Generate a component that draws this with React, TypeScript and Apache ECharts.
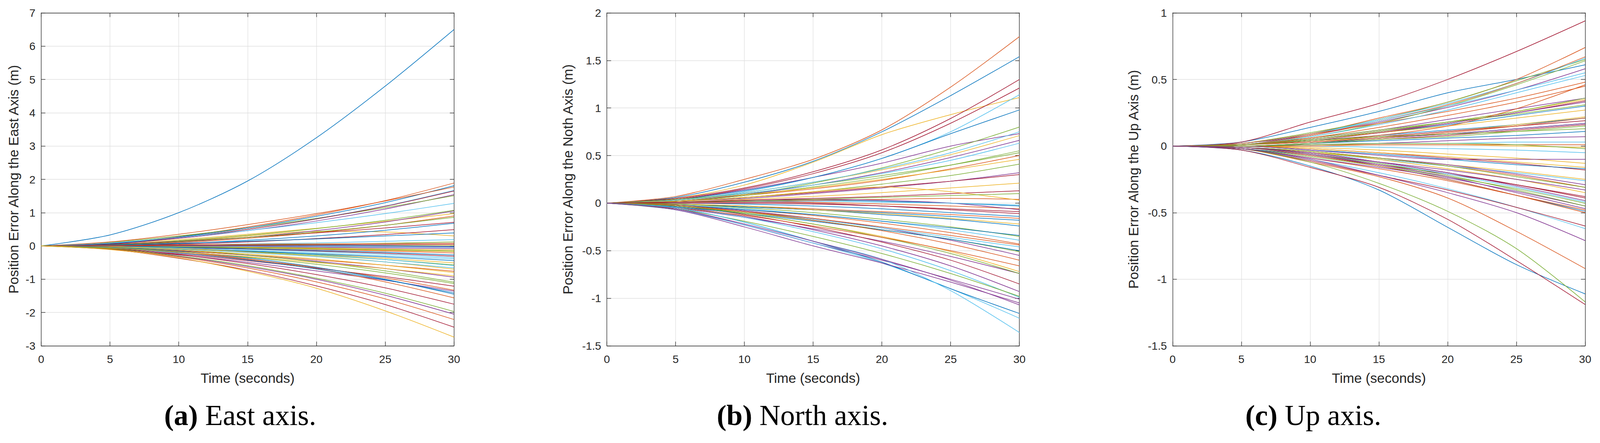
import React, { useEffect, useRef } from "react";
import * as echarts from "echarts";

// time samples (seconds)
const TIMES = [0, 5, 10, 15, 20, 25, 30];

// ---------- (a) East axis: position error (m) at TIMES ----------
const eastBlue = [
  [0, 0.33, 1.0, 1.95, 3.25, 4.8, 6.5],
  [0, 0.07, 0.27, 0.54, 0.89, 1.3, 1.81],
  [0, 0.02, 0.07, 0.17, 0.3, 0.47, 0.68],
  [0, 0.03, 0.08, 0.14, 0.21, 0.3, 0.39],
  [0, 0.0, 0.01, 0.02, 0.02, 0.01, -0.01],
  [0, -0.01, -0.04, -0.08, -0.13, -0.19, -0.27],
  [0, -0.03, -0.09, -0.16, -0.24, -0.33, -0.44],
  [0, -0.06, -0.21, -0.42, -0.69, -1.02, -1.41],
  [0, -0.04, -0.16, -0.36, -0.64, -1.0, -1.45],
];
const eastOrange = [
  [0, 0.08, 0.28, 0.57, 0.93, 1.36, 1.89],
  [0, 0.12, 0.35, 0.64, 0.97, 1.35, 1.77],
  [0, 0.03, 0.1, 0.23, 0.4, 0.62, 0.9],
  [0, -0.01, -0.03, -0.06, -0.1, -0.15, -0.21],
  [0, -0.05, -0.15, -0.27, -0.42, -0.58, -0.76],
  [0, -0.05, -0.2, -0.4, -0.65, -0.96, -1.33],
  [0, -0.05, -0.17, -0.39, -0.69, -1.08, -1.56],
  [0, -0.09, -0.33, -0.66, -1.08, -1.59, -2.21],
  [0, 0.01, 0.03, 0.05, 0.06, 0.07, 0.08],
];
const eastYellow = [
  [0, 0.07, 0.19, 0.35, 0.53, 0.74, 0.97],
  [0, 0.04, 0.14, 0.3, 0.44, 0.42, 0.3],
  [0, 0.0, 0.01, 0.01, 0.02, 0.02, 0.02],
  [0, -0.01, -0.02, -0.04, -0.06, -0.09, -0.12],
  [0, -0.01, -0.03, -0.06, -0.09, -0.13, -0.17],
  [0, -0.02, -0.08, -0.15, -0.25, -0.37, -0.51],
  [0, -0.02, -0.08, -0.18, -0.31, -0.48, -0.7],
  [0, -0.03, -0.12, -0.24, -0.39, -0.58, -0.8],
  [0, -0.06, -0.18, -0.32, -0.5, -0.68, -0.9],
  [0, -0.11, -0.36, -0.76, -1.27, -1.95, -2.74],
];
const eastPurple = [
  [0, 0.06, 0.23, 0.46, 0.75, 1.11, 1.54],
  [0, 0.03, 0.12, 0.26, 0.46, 0.72, 1.05],
  [0, 0.0, -0.01, -0.02, -0.04, -0.06, -0.08],
  [0, -0.04, -0.14, -0.28, -0.46, -0.68, -0.94],
  [0, -0.1, -0.27, -0.49, -0.75, -1.03, -1.36],
  [0, -0.08, -0.31, -0.62, -1.0, -1.48, -2.05],
  [0, 0.01, 0.01, 0.0, -0.01, -0.02, -0.03],
];
const eastGreen = [
  [0, 0.11, 0.3, 0.54, 0.83, 1.15, 1.51],
  [0, 0.04, 0.16, 0.32, 0.52, 0.77, 1.07],
  [0, 0.03, 0.13, 0.26, 0.42, 0.62, 0.86],
  [0, 0.0, 0.01, 0.03, 0.05, 0.08, 0.12],
  [0, -0.01, -0.03, -0.05, -0.08, -0.11, -0.15],
  [0, -0.02, -0.09, -0.17, -0.28, -0.41, -0.57],
  [0, -0.03, -0.12, -0.27, -0.48, -0.75, -1.09],
  [0, -0.05, -0.17, -0.34, -0.55, -0.81, -1.13],
  [0, -0.08, -0.3, -0.59, -0.97, -1.42, -1.97],
];
const eastLightBlue = [
  [0, 0.07, 0.25, 0.5, 0.82, 1.2, 1.67],
  [0, 0.09, 0.26, 0.46, 0.7, 0.97, 1.28],
  [0, 0.01, 0.03, 0.06, 0.09, 0.14, 0.19],
  [0, -0.01, -0.05, -0.11, -0.17, -0.25, -0.35],
  [0, -0.03, -0.08, -0.14, -0.21, -0.3, -0.39],
  [0, -0.02, -0.06, -0.15, -0.26, -0.41, -0.59],
  [0, -0.03, -0.1, -0.2, -0.32, -0.48, -0.66],
  [0, 0.0, 0.0, -0.01, -0.02, -0.03, -0.05],
];
const eastDarkRed = [
  [0, 0.07, 0.25, 0.5, 0.81, 1.19, 1.65],
  [0, 0.05, 0.14, 0.26, 0.39, 0.54, 0.71],
  [0, 0.01, 0.05, 0.12, 0.22, 0.34, 0.49],
  [0, -0.01, -0.05, -0.09, -0.15, -0.22, -0.31],
  [0, -0.08, -0.24, -0.44, -0.67, -0.92, -1.21],
  [0, -0.07, -0.26, -0.53, -0.86, -1.26, -1.75],
  [0, -0.1, -0.37, -0.73, -1.2, -1.76, -2.44],
  [0, 0.0, 0.01, 0.02, 0.03, 0.04, 0.05],
];

// ---------- (b) North axis ----------
const northBlue = [
  [0, 0.06, 0.22, 0.44, 0.75, 1.13, 1.54],
  [0, 0.04, 0.13, 0.27, 0.47, 0.73, 0.98],
  [0, 0.01, 0.02, 0.03, 0.02, 0.0, -0.03],
  [0, 0.0, -0.01, -0.03, -0.06, -0.1, -0.14],
  [0, -0.01, -0.04, -0.07, -0.1, -0.14, -0.18],
  [0, -0.01, -0.04, -0.07, -0.12, -0.17, -0.24],
  [0, -0.02, -0.07, -0.12, -0.19, -0.26, -0.34],
  [0, -0.04, -0.11, -0.19, -0.28, -0.38, -0.5],
  [0, -0.05, -0.2, -0.4, -0.62, -0.9, -1.16],
];
const northOrange = [
  [0, 0.07, 0.25, 0.46, 0.77, 1.22, 1.75],
  [0, 0.02, 0.08, 0.15, 0.24, 0.36, 0.5],
  [0, 0.01, 0.02, 0.03, 0.04, 0.05, 0.04],
  [0, 0.01, 0.02, 0.01, -0.01, -0.03, -0.06],
  [0, -0.01, -0.03, -0.06, -0.09, -0.12, -0.16],
  [0, -0.02, -0.07, -0.13, -0.21, -0.31, -0.43],
  [0, -0.03, -0.09, -0.16, -0.25, -0.34, -0.44],
  [0, -0.02, -0.09, -0.18, -0.29, -0.43, -0.6],
  [0, -0.05, -0.13, -0.24, -0.36, -0.5, -0.66],
];
const northYellow = [
  [0, 0.05, 0.19, 0.43, 0.72, 0.93, 1.11],
  [0, 0.03, 0.11, 0.22, 0.35, 0.51, 0.71],
  [0, 0.03, 0.09, 0.16, 0.25, 0.35, 0.46],
  [0, 0.01, 0.04, 0.07, 0.11, 0.16, 0.21],
  [0, 0.02, 0.06, 0.12, 0.17, 0.12, 0.03],
  [0, -0.01, -0.03, -0.07, -0.11, -0.16, -0.22],
  [0, -0.03, -0.11, -0.22, -0.35, -0.51, -0.72],
];
const northPurple = [
  [0, 0.04, 0.14, 0.27, 0.42, 0.6, 0.73],
  [0, 0.02, 0.09, 0.19, 0.32, 0.48, 0.66],
  [0, 0.02, 0.05, 0.1, 0.16, 0.23, 0.32],
  [0, 0.01, 0.03, 0.04, 0.03, 0.0, -0.07],
  [0, -0.02, -0.08, -0.16, -0.26, -0.39, -0.55],
  [0, -0.05, -0.15, -0.27, -0.4, -0.56, -0.74],
  [0, -0.04, -0.14, -0.28, -0.45, -0.66, -0.93],
  [0, -0.06, -0.23, -0.42, -0.6, -0.8, -1.01],
  [0, -0.07, -0.25, -0.45, -0.63, -0.83, -1.05],
  [0, -0.06, -0.22, -0.4, -0.59, -0.81, -1.07],
];
const northGreen = [
  [0, 0.02, 0.09, 0.21, 0.37, 0.57, 0.8],
  [0, 0.02, 0.08, 0.17, 0.27, 0.4, 0.55],
  [0, 0.04, 0.1, 0.19, 0.29, 0.4, 0.53],
  [0, 0.02, 0.06, 0.12, 0.2, 0.29, 0.41],
  [0, 0.01, 0.02, 0.04, 0.06, 0.08, 0.1],
  [0, -0.01, -0.05, -0.1, -0.17, -0.25, -0.35],
  [0, -0.03, -0.1, -0.18, -0.28, -0.38, -0.51],
  [0, -0.03, -0.11, -0.22, -0.36, -0.53, -0.74],
  [0, -0.06, -0.19, -0.35, -0.53, -0.74, -0.98],
];
const northLightBlue = [
  [0, 0.03, 0.12, 0.27, 0.47, 0.75, 1.14],
  [0, 0.03, 0.11, 0.22, 0.36, 0.53, 0.75],
  [0, 0.03, 0.1, 0.19, 0.31, 0.45, 0.63],
  [0, 0.01, 0.02, 0.02, 0.01, 0.0, -0.02],
  [0, -0.02, -0.06, -0.12, -0.19, -0.28, -0.39],
  [0, -0.03, -0.09, -0.17, -0.26, -0.36, -0.46],
  [0, -0.04, -0.15, -0.3, -0.48, -0.71, -0.99],
  [0, -0.07, -0.23, -0.42, -0.63, -0.9, -1.21],
  [0, -0.05, -0.2, -0.4, -0.59, -0.92, -1.36],
];
const northDarkRed = [
  [0, 0.05, 0.16, 0.33, 0.56, 0.89, 1.3],
  [0, 0.04, 0.15, 0.31, 0.53, 0.84, 1.21],
  [0, 0.02, 0.06, 0.11, 0.17, 0.23, 0.3],
  [0, 0.01, 0.03, 0.05, 0.07, 0.1, 0.13],
  [0, 0.0, 0.0, -0.01, -0.03, -0.06, -0.09],
  [0, 0.01, 0.01, 0.0, -0.03, -0.07, -0.11],
  [0, -0.03, -0.12, -0.25, -0.41, -0.6, -0.85],
];

// ---------- (c) Up axis ----------
const upBlue = [
  [0, 0.03, 0.14, 0.26, 0.4, 0.5, 0.61],
  [0, 0.01, 0.05, 0.1, 0.16, 0.23, 0.3],
  [0, 0.01, 0.04, 0.08, 0.12, 0.16, 0.21],
  [0, 0.0, 0.02, 0.06, 0.09, 0.13, 0.17],
  [0, 0.0, 0.02, 0.04, 0.06, 0.08, 0.11],
  [0, 0.0, -0.03, -0.06, -0.1, -0.14, -0.17],
  [0, -0.02, -0.07, -0.15, -0.25, -0.37, -0.49],
  [0, -0.03, -0.15, -0.33, -0.61, -0.89, -1.11],
];
const upOrange = [
  [0, 0.01, 0.09, 0.21, 0.33, 0.5, 0.74],
  [0, 0.01, 0.08, 0.19, 0.31, 0.47, 0.67],
  [0, 0.02, 0.09, 0.17, 0.26, 0.36, 0.48],
  [0, 0.01, 0.04, 0.08, 0.15, 0.28, 0.46],
  [0, 0.01, 0.06, 0.14, 0.23, 0.33, 0.45],
  [0, 0.01, 0.03, 0.06, 0.1, 0.15, 0.21],
  [0, 0.0, 0.0, 0.01, 0.01, 0.01, 0.01],
  [0, -0.01, -0.04, -0.09, -0.15, -0.22, -0.31],
  [0, -0.02, -0.09, -0.17, -0.26, -0.37, -0.48],
  [0, -0.01, -0.07, -0.15, -0.25, -0.37, -0.5],
  [0, -0.02, -0.12, -0.23, -0.39, -0.64, -0.92],
];
const upYellow = [
  [0, 0.01, 0.05, 0.11, 0.18, 0.26, 0.35],
  [0, 0.01, 0.05, 0.1, 0.15, 0.21, 0.27],
  [0, 0.01, 0.03, 0.07, 0.11, 0.16, 0.22],
  [0, 0.0, 0.01, 0.01, 0.01, 0.0, -0.01],
  [0, 0.0, -0.01, -0.03, -0.06, -0.09, -0.13],
  [0, 0.0, -0.02, -0.05, -0.08, -0.12, -0.16],
  [0, -0.01, -0.05, -0.09, -0.14, -0.19, -0.25],
  [0, -0.01, -0.04, -0.1, -0.17, -0.25, -0.35],
];
const upPurple = [
  [0, 0.02, 0.08, 0.18, 0.29, 0.42, 0.58],
  [0, 0.01, 0.06, 0.12, 0.2, 0.28, 0.36],
  [0, 0.01, 0.05, 0.11, 0.17, 0.25, 0.33],
  [0, 0.01, 0.03, 0.06, 0.09, 0.13, 0.17],
  [0, 0.0, 0.01, 0.02, 0.04, 0.06, 0.07],
  [0, 0.0, -0.03, -0.07, -0.1, -0.1, -0.1],
  [0, -0.01, -0.04, -0.09, -0.14, -0.21, -0.29],
  [0, -0.01, -0.06, -0.12, -0.18, -0.25, -0.33],
  [0, -0.01, -0.05, -0.12, -0.2, -0.3, -0.41],
  [0, -0.02, -0.09, -0.16, -0.24, -0.34, -0.45],
  [0, -0.01, -0.06, -0.14, -0.23, -0.35, -0.47],
  [0, -0.02, -0.1, -0.22, -0.35, -0.5, -0.71],
];
const upGreen = [
  [0, 0.02, 0.1, 0.2, 0.33, 0.49, 0.65],
  [0, 0.01, 0.07, 0.17, 0.3, 0.46, 0.64],
  [0, 0.01, 0.05, 0.11, 0.18, 0.26, 0.36],
  [0, 0.01, 0.06, 0.12, 0.18, 0.24, 0.31],
  [0, 0.0, 0.02, 0.05, 0.07, 0.11, 0.15],
  [0, 0.01, 0.04, 0.07, 0.09, 0.11, 0.13],
  [0, 0.0, 0.01, 0.02, 0.02, 0.01, -0.02],
  [0, -0.01, -0.04, -0.09, -0.15, -0.23, -0.31],
  [0, -0.02, -0.08, -0.15, -0.23, -0.32, -0.43],
  [0, -0.01, -0.06, -0.13, -0.22, -0.33, -0.45],
  [0, -0.02, -0.12, -0.28, -0.49, -0.77, -1.17],
];
const upLightBlue = [
  [0, 0.02, 0.09, 0.2, 0.32, 0.47, 0.66],
  [0, 0.02, 0.09, 0.19, 0.3, 0.42, 0.55],
  [0, 0.01, 0.07, 0.16, 0.27, 0.4, 0.53],
  [0, 0.0, 0.01, 0.02, 0.02, 0.03, 0.03],
  [0, 0.0, 0.0, -0.01, -0.02, -0.03, -0.05],
  [0, -0.01, -0.05, -0.1, -0.15, -0.2, -0.26],
  [0, -0.01, -0.06, -0.13, -0.21, -0.31, -0.42],
  [0, -0.02, -0.1, -0.2, -0.32, -0.46, -0.62],
];
const upDarkRed = [
  [0, 0.03, 0.18, 0.32, 0.5, 0.71, 0.94],
  [0, 0.01, 0.04, 0.1, 0.17, 0.25, 0.34],
  [0, 0.01, 0.04, 0.07, 0.11, 0.15, 0.19],
  [0, 0.0, 0.02, 0.05, 0.08, 0.12, 0.16],
  [0, 0.0, -0.02, -0.05, -0.09, -0.13, -0.18],
  [0, -0.02, -0.07, -0.14, -0.21, -0.29, -0.38],
  [0, -0.01, -0.05, -0.12, -0.2, -0.29, -0.39],
  [0, -0.02, -0.11, -0.22, -0.33, -0.46, -0.6],
  [0, -0.03, -0.16, -0.31, -0.55, -0.86, -1.19],
];

// axis ticks / labels
const X_TICK = { min: 0, max: 30, interval: 5 };
const EAST_Y = { min: -3, max: 7, interval: 1 };
const NORTH_Y = { min: -1.5, max: 2, interval: 0.5 };
const UP_Y = { min: -1.5, max: 1, interval: 0.5 };

const X_NAME = "Time (seconds)";
const Y_NAMES = [
  "Position Error Along the East Axis (m)",
  "Position Error Along the Noth Axis (m)",
  "Position Error Along the Up Axis (m)",
];
const CAP_TAGS = ["(a)", "(b)", "(c)"];
const CAP_TEXTS = ["East axis.", "North axis.", "Up axis."];

// ---------- styles / layout (designed for a 4197 x 1135 page) ----------
const W = 4197;
const H = 1135;
const SANS = "'Liberation Sans', Arial, Helvetica, sans-serif";
const SERIF = "'Liberation Serif', 'Times New Roman', serif";
const AX = "#262626";
const GRID = "#dfdfdf";
const MATLAB = {
  blue: "#0072BD",
  orange: "#D95319",
  yellow: "#EDB120",
  purple: "#7E2F8E",
  green: "#77AC30",
  lightBlue: "#4DBEEE",
  darkRed: "#A2142F",
};

const PANELS = [
  {
    left: 108, width: 1083, y: EAST_Y, nameGap: 55, capX: 630,
    groups: [
      [eastBlue, MATLAB.blue], [eastOrange, MATLAB.orange], [eastYellow, MATLAB.yellow],
      [eastPurple, MATLAB.purple], [eastGreen, MATLAB.green], [eastLightBlue, MATLAB.lightBlue],
      [eastDarkRed, MATLAB.darkRed],
    ],
  },
  {
    left: 1592, width: 1082, y: NORTH_Y, nameGap: 85, capX: 2105,
    groups: [
      [northBlue, MATLAB.blue], [northOrange, MATLAB.orange], [northYellow, MATLAB.yellow],
      [northPurple, MATLAB.purple], [northGreen, MATLAB.green], [northLightBlue, MATLAB.lightBlue],
      [northDarkRed, MATLAB.darkRed],
    ],
  },
  {
    left: 3076, width: 1082, y: UP_Y, nameGap: 85, capX: 3445,
    groups: [
      [upBlue, MATLAB.blue], [upOrange, MATLAB.orange], [upYellow, MATLAB.yellow],
      [upPurple, MATLAB.purple], [upGreen, MATLAB.green], [upLightBlue, MATLAB.lightBlue],
      [upDarkRed, MATLAB.darkRed],
    ],
  },
] as { left: number; width: number; y: any; nameGap: number; capX: number; groups: [number[][], string][] }[];

const TOP = 33;
const PLOT_H = 853;

function buildOption(sx: number, sy: number) {
  const s = Math.min(sx, sy);
  const grid: any[] = [];
  const xAxis: any[] = [];
  const yAxis: any[] = [];
  const series: any[] = [];
  const graphic: any[] = [];

  const axisLine = { show: true, onZero: false, lineStyle: { color: AX, width: 1.3 } };
  const axisTick = { show: true, inside: true, length: 11 * s, lineStyle: { color: AX, width: 1.3 } };
  const labelStyle = { fontSize: 29 * s, color: AX, fontFamily: SANS };

  PANELS.forEach((p, i) => {
    grid.push({
      left: p.left * sx, top: TOP * sy, width: p.width * sx, height: PLOT_H * sy, containLabel: false,
    });
    xAxis.push({
      type: "value", gridIndex: i, position: "bottom", ...X_TICK,
      axisLine, axisTick,
      axisLabel: { ...labelStyle, margin: 20 * sy },
      splitLine: { show: true, lineStyle: { color: GRID, width: 1.3 } },
      name: X_NAME, nameLocation: "middle", nameGap: 65 * sy,
      nameTextStyle: { fontSize: 36 * s, color: AX, fontFamily: SANS },
    });
    xAxis.push({
      type: "value", gridIndex: i, position: "top", ...X_TICK,
      axisLine, axisTick, axisLabel: { show: false }, splitLine: { show: false },
    });
    yAxis.push({
      type: "value", gridIndex: i, position: "left", ...p.y,
      axisLine, axisTick,
      axisLabel: { ...labelStyle, margin: 15 * sx },
      splitLine: { show: true, lineStyle: { color: GRID, width: 1.3 } },
      name: Y_NAMES[i], nameLocation: "middle", nameGap: p.nameGap * sx, nameRotate: 90,
      nameTextStyle: { fontSize: 36 * s, color: AX, fontFamily: SANS },
    });
    yAxis.push({
      type: "value", gridIndex: i, position: "right", ...p.y,
      axisLine, axisTick, axisLabel: { show: false }, splitLine: { show: false },
    });

    const maxLen = Math.max(...p.groups.map((g) => g[0].length));
    for (let k = 0; k < maxLen; k++) {
      p.groups.forEach(([lines, color]) => {
        const line = lines[k];
        if (!line) return;
        series.push({
          type: "line",
          xAxisIndex: 2 * i,
          yAxisIndex: 2 * i,
          data: TIMES.map((t, j) => [t, line[j]]),
          symbol: "none",
          showSymbol: false,
          smooth: 0.3,
          silent: true,
          lineStyle: { width: 1.5, color },
          itemStyle: { color },
          z: 2,
        });
      });
    }

    graphic.push({
      type: "text",
      x: p.capX * sx,
      y: 1064 * sy,
      silent: true,
      style: {
        text: `{b|${CAP_TAGS[i]}} ${CAP_TEXTS[i]}`,
        rich: { b: { fontWeight: "bold", fontSize: 76 * s, fontFamily: SERIF, fill: "#000" } },
        fontSize: 76 * s,
        fontFamily: SERIF,
        fill: "#000",
        align: "center",
        verticalAlign: "middle",
      },
    });
  });

  return {
    animation: false,
    backgroundColor: "#ffffff",
    grid,
    xAxis,
    yAxis,
    series,
    graphic,
  };
}

export default function App() {
  const ref = useRef<HTMLDivElement>(null);
  useEffect(() => {
    document.body.style.margin = "0";
    document.documentElement.style.overflow = "hidden";
    document.body.style.overflow = "hidden";
    const el = ref.current as HTMLDivElement;
    const vw = window.innerWidth || W;
    const vh = window.innerHeight || H;
    el.style.width = vw + "px";
    el.style.height = vh + "px";
    const chart = echarts.init(el, null, { renderer: "svg" });
    chart.setOption(buildOption(vw / W, vh / H) as any);
    return () => chart.dispose();
  }, []);
  return (
    <div
      ref={ref}
      style={{ position: "fixed", left: 0, top: 0, width: W, height: H, background: "#fff" }}
    />
  );
}
